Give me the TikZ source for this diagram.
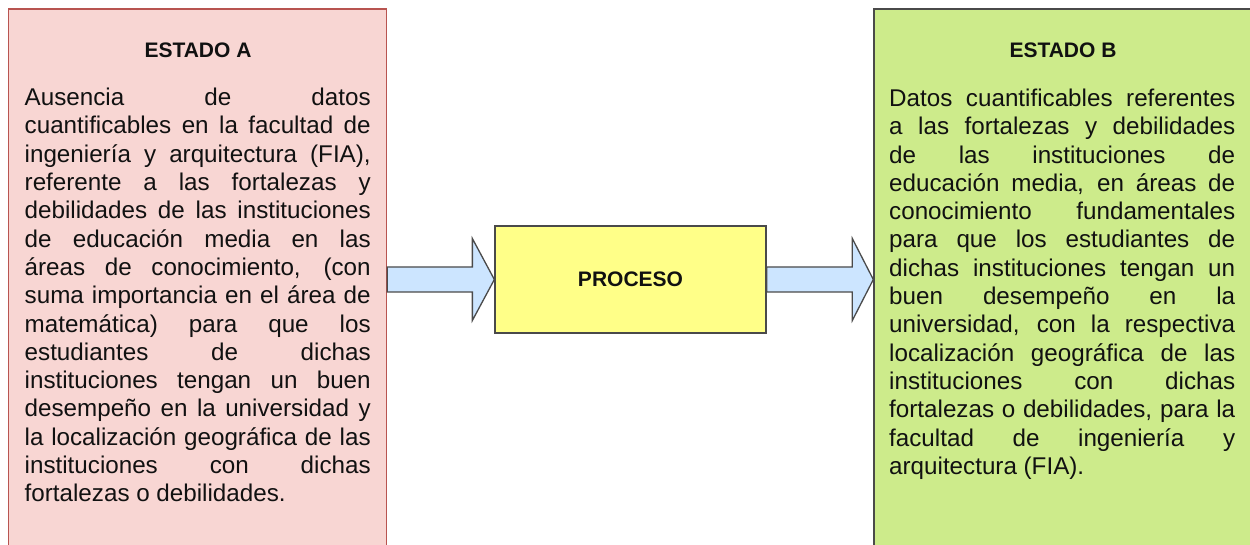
\documentclass[tikz,border=0pt]{standalone}
\usepackage{fontspec}
\setmainfont{Liberation Sans}
\usetikzlibrary{calc}
\definecolor{redfill}{HTML}{F8D6D3}
\definecolor{redline}{HTML}{B85450}
\definecolor{greenfill}{HTML}{CDEB8B}
\definecolor{grayline}{HTML}{4A4A4A}
\definecolor{yellowfill}{HTML}{FFFF88}
\definecolor{bluefill}{HTML}{CCE5FF}
\definecolor{txt}{HTML}{111111}
\tolerance=10000
\hyphenpenalty=10000
\begin{document}
\begin{tikzpicture}[x=1pt,y=-1pt,
  statebox/.style={draw, line width=1.3pt, inner sep=0pt, minimum height=600pt, anchor=north west},
  titletext/.style={anchor=base, inner sep=0pt, text=txt, font=\fontsize{21}{25}\selectfont\bfseries},
  bodytext/.style={anchor=base west, inner sep=0pt, text width=346pt, align=justify, text=txt,
    font=\fontsize{24.2}{28.3}\selectfont},
  procbox/.style={draw=grayline, fill=yellowfill, line width=1.3pt, minimum width=271pt, minimum height=107pt,
    inner sep=0pt, text=txt, font=\fontsize{21}{25}\selectfont\bfseries},
  blockarr/.style={draw=grayline, fill=bluefill, line width=1.3pt, line join=miter}]
\useasboundingbox (0,0) rectangle (1250,545);
\clip (0,0) rectangle (1250,545);
\fill[white] (0,0) rectangle (1250,545);

% state boxes
\node[statebox, fill=redfill, draw=redline, minimum width=378.5pt] (A) at (7.5,8.3) {};
\node[statebox, fill=greenfill, draw=grayline, minimum width=420pt] (B) at (873.3,8.3) {};

% titles
\node[titletext] (tA) at (198,57.3) {ESTADO A};
\node[titletext] (tB) at (1063,57.3) {ESTADO B};

% body texts
\node[bodytext] (bA) at (24.5,105.7) {Ausencia de datos\linebreak
cuantificables en la facultad de\linebreak
ingeniería y arquitectura (FIA),\linebreak
referente a las fortalezas y\linebreak
debilidades de las instituciones\linebreak
de educación media en las\linebreak
áreas de conocimiento, (con\linebreak
suma importancia en el área de\linebreak
matemática) para que los\linebreak
estudiantes de dichas\linebreak
instituciones tengan un buen\linebreak
desempeño en la universidad y\linebreak
la localización geográfica de las\linebreak
instituciones con dichas\linebreak
fortalezas o debilidades.};

\node[bodytext] (bB) at (889,106.5) {Datos cuantificables referentes\linebreak
a las fortalezas y debilidades\linebreak
de las instituciones de\linebreak
educación media, en áreas de\linebreak
conocimiento fundamentales\linebreak
para que los estudiantes de\linebreak
dichas instituciones tengan un\linebreak
buen desempeño en la\linebreak
universidad, con la respectiva\linebreak
localización geográfica de las\linebreak
instituciones con dichas\linebreak
fortalezas o debilidades, para la\linebreak
facultad de ingeniería y\linebreak
arquitectura (FIA).};

% process
\node[procbox] (P) at (630.5,279.5) {PROCESO};

% block arrows
\coordinate (a1) at ([yshift=12.5pt]P.west);
\coordinate (a2) at ([yshift=-12.5pt]P.west);
\draw[blockarr] (A.east |- a1) -- ([xshift=-22pt]a1) -- ([xshift=-22pt,yshift=41pt]P.west) -- (P.west)
  -- ([xshift=-22pt,yshift=-41pt]P.west) -- ([xshift=-22pt]a2) -- (A.east |- a2) -- cycle;

\coordinate (tipB) at (B.west |- P.east);
\coordinate (b1) at ([yshift=12.5pt]tipB);
\coordinate (b2) at ([yshift=-12.5pt]tipB);
\draw[blockarr] (P.east |- b1) -- ([xshift=-21pt]b1) -- ([xshift=-21pt,yshift=41pt]tipB) -- (tipB)
  -- ([xshift=-21pt,yshift=-41pt]tipB) -- ([xshift=-21pt]b2) -- (P.east |- b2) -- cycle;
\end{tikzpicture}
\end{document}
